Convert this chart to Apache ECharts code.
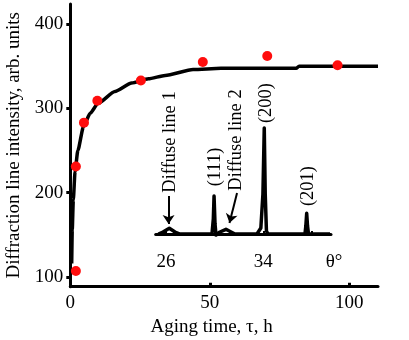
<!DOCTYPE html>
<html>
<head>
<meta charset="utf-8">
<script src="https://cdn.jsdelivr.net/npm/echarts@6.0.0/dist/echarts.min.js"></script>
<style>
  html, body { margin: 0; padding: 0; background: #fff; }
  #main { width: 409px; height: 340px; }
</style>
</head>
<body>
<div id="main"></div>
<script>
// measured points: aging time (h) / line intensity
const pointTime = [2, 2, 4.9, 9.7, 25.3, 47.5, 70.6, 95.8];
const pointIntensity = [107, 231, 283, 309, 333, 355, 362, 351];

// fitted curve
const curveTime = [0.5, 0.7, 1.07, 1.7, 2.7, 4.7, 7.1, 10, 16, 22, 28, 34, 44, 54, 81, 82, 110.3];
const curveIntensity = [116, 156, 191, 225, 250, 278, 294, 306, 320, 330, 335, 339, 346, 347.5, 347.5, 350, 350];

// inset: diffraction pattern (theta, deg / counts, arb.)
const theta = [25.37, 25.75, 26.27, 26.74, 27.15, 29.78, 29.89, 29.95, 30.03, 30.11, 30.22, 30.44, 30.93, 31.35, 31.67,
  33.48, 33.8, 33.97, 34.08, 34.16, 34.26, 34.38, 37.43, 37.5, 37.57, 37.64, 37.72, 39.49];
const counts = [0, 2, 5.7, 2, 0, 0, 15, 38, 10, -1, -2.7, 2, 4.7, 2, 0,
  0, 6, 40, 106, 40, 3, 0, 0, 8, 20.7, 8, 0, 0];

const yTicks = [100, 200, 300, 400];
const insetTicks = [26, 30, 34, 38];
const insetLabels = [26, 34, 39.57];
const peakNames = ['Diffuse line 1', '(111)', 'Diffuse line 2', '(200)', '(201)'];

const font = 'Liberation Serif';

const myChart = echarts.init(document.getElementById('main'));

const option = {
  animation: false,
  textStyle: { fontFamily: font, color: '#000' },
  grid: [
    { left: 70.3, right: 31, top: 4, bottom: 53.3, containLabel: false, outerBoundsMode: 'none' },
    { left: 155.7, right: 78, top: 94, bottom: 96, containLabel: false, outerBoundsMode: 'none' }
  ],
  xAxis: [
    {
      type: 'value', gridIndex: 0, min: 0, max: 110.3, interval: 50,
      name: 'Aging time, τ, h', nameLocation: 'middle', nameGap: 26,
      nameTextStyle: { fontSize: 19, fontFamily: font, color: '#000', padding: [0, 25, 0, 0] },
      axisLine: { lineStyle: { color: '#000', width: 3 } },
      axisTick: { inside: true, length: 4, lineStyle: { color: '#000', width: 3 } },
      axisLabel: { fontSize: 19, fontFamily: font, color: '#000', margin: 7, showMaxLabel: false },
      splitLine: { show: false }
    },
    {
      type: 'value', gridIndex: 1, min: 25.15, max: 39.57, offset: 2,
      axisLine: { lineStyle: { color: '#000', width: 3 } },
      axisTick: { inside: true, length: 3, customValues: insetTicks, lineStyle: { color: '#000', width: 2 } },
      axisLabel: {
        fontSize: 19, fontFamily: font, color: '#000', margin: 7, customValues: insetLabels,
        formatter: v => (v > 39 ? '{t|θ°}' : String(v)),
        rich: { t: { fontSize: 19, fontFamily: font, color: '#000', padding: [0, 0, 0, 6] } }
      },
      splitLine: { show: false }
    }
  ],
  yAxis: [
    {
      type: 'value', gridIndex: 0, min: 88.4, max: 423.7,
      name: 'Diffraction line intensity, arb. units', nameLocation: 'middle', nameGap: 43,
      nameTextStyle: { fontSize: 19, fontFamily: font, color: '#000' },
      axisLine: { lineStyle: { color: '#000', width: 3 } },
      axisTick: { length: 4, customValues: yTicks, lineStyle: { color: '#000', width: 3 } },
      axisLabel: { fontSize: 19, fontFamily: font, color: '#000', margin: 7, customValues: yTicks },
      splitLine: { show: false }
    },
    {
      type: 'value', gridIndex: 1, min: -10, max: 140, show: false
    }
  ],
  series: [
    {
      name: 'fit',
      type: 'line', xAxisIndex: 0, yAxisIndex: 0,
      data: curveTime.map((t, i) => [t, curveIntensity[i]]),
      smooth: 0.2, smoothMonotone: 'x', showSymbol: false,
      lineStyle: { color: '#000', width: 3.5 },
      z: 2
    },
    {
      name: 'measured',
      type: 'scatter', xAxisIndex: 0, yAxisIndex: 0,
      data: pointTime.map((t, i) => [t, pointIntensity[i]]),
      symbolSize: 10,
      itemStyle: { color: '#ff0d0d', opacity: 1 },
      z: 3
    },
    {
      name: 'pattern',
      type: 'line', xAxisIndex: 1, yAxisIndex: 1,
      data: theta.map((t, i) => [t, counts[i]]),
      showSymbol: false, clip: false,
      lineStyle: { color: '#000', width: 3.5, join: 'round' },
      markPoint: {
        symbol: 'circle', symbolSize: 1,
        itemStyle: { color: 'rgba(0,0,0,0)' },
        label: { show: true, position: 'inside', rotate: 90, fontSize: 18.5, fontFamily: font, color: '#000', formatter: p => p.name },
        data: [
          { name: peakNames[0], coord: [26.33, 92] },
          { name: peakNames[1], coord: [30.03, 67] },
          { name: peakNames[2], coord: [31.76, 94] },
          { name: peakNames[3], coord: [34.22, 131] },
          { name: peakNames[4], coord: [37.68, 48] }
        ]
      },
      markLine: {
        silent: true,
        symbol: ['none', 'arrow'], symbolSize: 9,
        label: { show: false },
        lineStyle: { color: '#000', width: 2, type: 'solid' },
        data: [
          [{ coord: [26.21, 38] }, { coord: [26.21, 10] }],
          [{ coord: [31.84, 41] }, { coord: [31.22, 11] }]
        ]
      }
    }
  ]
};

myChart.setOption(option);
</script>
</body>
</html>
